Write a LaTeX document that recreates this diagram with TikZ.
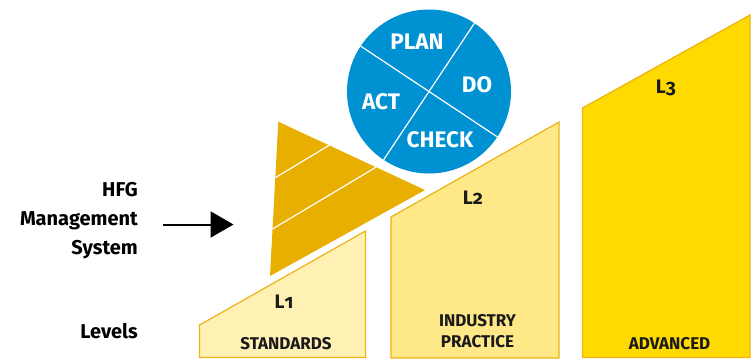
\documentclass[tikz,border=0pt]{standalone}
\usepackage{fontspec}
\setmainfont{Fira Sans}
\usetikzlibrary{arrows.meta,calc}
\definecolor{pdcablue}{HTML}{0091D2}
\definecolor{trigold}{HTML}{E8AE00}
\definecolor{lvlone}{HTML}{FFF0B4}
\definecolor{lvltwo}{HTML}{FFE887}
\definecolor{lvlthree}{HTML}{FFDA00}
\definecolor{lvledge}{HTML}{EBB414}
\definecolor{txtdark}{HTML}{1A1A1A}
\newcommand{\osn}[1]{{\addfontfeatures{Numbers=OldStyle}#1}}
\begin{document}
\begin{tikzpicture}[x=1pt,y=-1pt,
  levelbox/.style={draw=lvledge, line width=1.2pt, line join=miter},
  leveltag/.style={font=\bfseries\fontsize{19.5}{22}\selectfont, text=txtdark, inner sep=0pt},
  levelname/.style={font=\fontsize{17}{20.5}\selectfont\bfseries, text=txtdark, align=center, inner sep=0pt},
  pdcatext/.style={font=\bfseries\fontsize{22.5}{24}\selectfont, text=white, inner sep=0pt},
  sidetext/.style={font=\bfseries\fontsize{20}{29.3}\selectfont, text=black, align=right, anchor=east, inner sep=0pt},
  whiteline/.style={draw=white, line width=1.2pt}
]
\useasboundingbox (0,0) rectangle (754,360);

% level boxes
\draw[levelbox, fill=lvlone] (199.5,325) -- (365.5,231) -- (365.5,357.5) -- (199.5,357.5) -- cycle;
\draw[levelbox, fill=lvltwo] (391,217) -- (559,122) -- (559,358) -- (391,358) -- cycle;
\draw[levelbox, fill=lvlthree] (582.5,108) -- (750,15) -- (750,357.5) -- (582.5,357.5) -- cycle;

\node[leveltag] (l1) at (284,302) {L\osn{1}};
\node[leveltag] (l2) at (473,198) {L\osn{2}};
\node[leveltag] (l3) at (666,88) {L\osn{3}};
\node[levelname] (std) at (286,343.5) {STANDARDS};
\node[levelname] (ind) at (477.5,331) {INDUSTRY\\PRACTICE};
\node[levelname] (adv) at (669.5,343.5) {ADVANCED};

% triangle
\coordinate (ta) at (278.3,121.7);
\coordinate (tb) at (425,190);
\coordinate (tc) at (270,276);
\fill[trigold] (ta) -- (tb) -- (tc) -- cycle;
\draw[whiteline] ($(ta)!0.363!(tc)$) -- ($(ta)!0.346!(tb)$);
\draw[whiteline] ($(ta)!0.695!(tc)$) -- ($(ta)!0.666!(tb)$);

% PDCA circle
\coordinate (cc) at (429,91.5);
\fill[pdcablue] (cc) circle[radius=82];
\draw[whiteline] ($(cc)+(33.6:82)$) -- ($(cc)+(213.6:82)$);
\draw[whiteline] ($(cc)+(123.6:82)$) -- ($(cc)+(303.6:82)$);
\node[pdcatext] (plan) at (417,42) {PLAN};
\node[pdcatext] (do) at (477,84.5) {DO};
\node[pdcatext] (act) at (381,102) {ACT};
\node[pdcatext] (check) at (440,140) {CHECK};

% left texts
\node[sidetext] (hfg) at (138,220.5) {HFG\\Management\\System};
\node[sidetext] (levels) at (138,331.5) {Levels};

% arrow
\coordinate (as) at (163,224.5);
\coordinate (ae) at (233.5,224.5);
\draw[line width=2pt, -{Triangle[length=23pt,width=26pt]}] (as) -- (ae);
\end{tikzpicture}
\end{document}
